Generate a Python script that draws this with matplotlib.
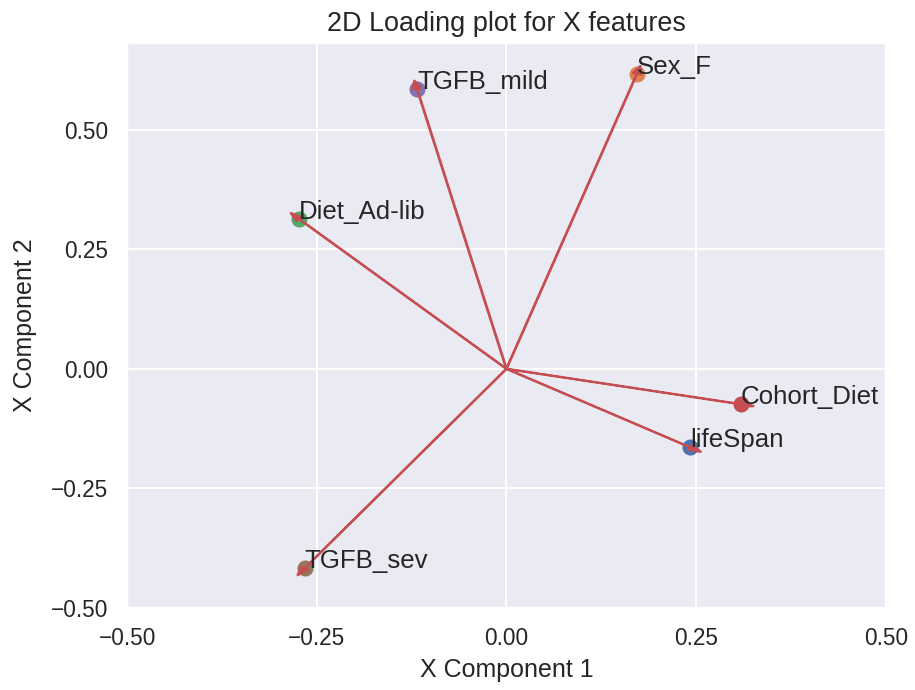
import numpy as np
import seaborn as sns
from matplotlib import pyplot as plt

sns.set()
plt.rcParams['font.family'] = ['Liberation Sans', 'DejaVu Sans']

# loadings of the X features on the first two components
features = ['lifeSpan', 'Sex_F', 'Diet_Ad-lib', 'Cohort_Diet', 'TGFB_mild', 'TGFB_sev']
comp1 = [0.242, 0.172, -0.273, 0.309, -0.118, -0.266]
comp2 = [-0.164, 0.617, 0.313, -0.074, 0.586, -0.417]

fig = plt.figure(figsize=(915 / 143, 690 / 143), dpi=143)
ax = fig.add_axes([0.139, 0.119, 0.829, 0.819])

for i in range(len(features)):
    ax.scatter(comp1[i], comp2[i], s=50)
    ax.arrow(0, 0, comp1[i], comp2[i], color='r', head_width=0.012)
    ax.text(comp1[i], comp2[i], features[i], fontsize=13)

ax.set_xlim(-0.5, 0.5)
ax.set_ylim(-0.5, 0.682)
ax.set_xticks([-0.5, -0.25, 0, 0.25, 0.5])
ax.set_yticks([-0.5, -0.25, 0, 0.25, 0.5])
ax.set_xticklabels(['−0.50', '−0.25', '0.00', '0.25', '0.50'])
ax.set_yticklabels(['−0.50', '−0.25', '0.00', '0.25', '0.50'])
ax.tick_params(labelsize=11.4)
ax.set_xlabel("X Component 1", fontsize=12.6)
ax.set_ylabel("X Component 2", fontsize=12.6, labelpad=7)
ax.set_title("2D Loading plot for X features", fontsize=13.6)
fig.savefig('out.png')
